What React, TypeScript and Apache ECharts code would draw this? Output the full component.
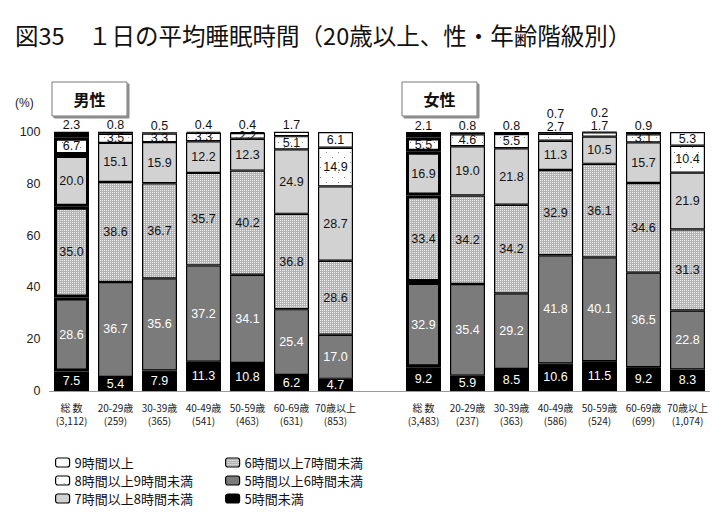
import React, { useEffect, useRef } from "react";
import * as echarts from "echarts";

const categories = ["総 数", "20-29歳", "30-39歳", "40-49歳", "50-59歳", "60-69歳", "70歳以上"];
const maleCounts = ["(3,112)", "(259)", "(365)", "(541)", "(463)", "(631)", "(853)"];
const femaleCounts = ["(3,483)", "(237)", "(363)", "(586)", "(524)", "(699)", "(1,074)"];

const bandNames = [
  "5時間未満",
  "5時間以上6時間未満",
  "6時間以上7時間未満",
  "7時間以上8時間未満",
  "8時間以上9時間未満",
  "9時間以上",
];

// Male (総数, 20-29, 30-39, 40-49, 50-59, 60-69, 70+)
const maleLt5 = [7.5, 5.4, 7.9, 11.3, 10.8, 6.2, 4.7];
const male5to6 = [28.6, 36.7, 35.6, 37.2, 34.1, 25.4, 17.0];
const male6to7 = [35.0, 38.6, 36.7, 35.7, 40.2, 36.8, 28.6];
const male7to8 = [20.0, 15.1, 15.9, 12.2, 12.3, 24.9, 28.7];
const male8to9 = [6.7, 3.5, 3.3, 3.3, 2.2, 5.1, 14.9];
const male9plus = [2.3, 0.8, 0.5, 0.4, 0.4, 1.7, 6.1];

// Female
const femaleLt5 = [9.2, 5.9, 8.5, 10.6, 11.5, 9.2, 8.3];
const female5to6 = [32.9, 35.4, 29.2, 41.8, 40.1, 36.5, 22.8];
const female6to7 = [33.4, 34.2, 34.2, 32.9, 36.1, 34.6, 31.3];
const female7to8 = [16.9, 19.0, 21.8, 11.3, 10.5, 15.7, 21.9];
const female8to9 = [5.5, 4.6, 5.5, 2.7, 1.7, 3.1, 10.4];
const female9plus = [2.1, 0.8, 0.8, 0.7, 0.2, 0.9, 5.3];

const yTicks = [0, 20, 40, 60, 80, 100];

function makePattern(kind: "dense" | "sparse") {
  const c = document.createElement("canvas");
  if (kind === "dense") {
    c.width = 4;
    c.height = 4;
    const g = c.getContext("2d")!;
    g.fillStyle = "#b4b4b4";
    g.fillRect(0, 0, 4, 4);
    g.fillStyle = "#ececec";
    g.fillRect(0, 0, 1, 1);
    g.fillRect(2, 2, 1, 1);
    g.fillRect(2, 0, 1, 1);
    g.fillRect(0, 2, 1, 1);
  } else {
    c.width = 12;
    c.height = 10;
    const g = c.getContext("2d")!;
    g.fillStyle = "#ffffff";
    g.fillRect(0, 0, 12, 10);
    g.fillStyle = "#8a8a8a";
    g.fillRect(2, 2, 1, 1);
    g.fillRect(8, 7, 1, 1);
  }
  return { image: c, repeat: "repeat", imageWidth: c.width, imageHeight: c.height };
}

export default function App() {
  const ref = useRef<HTMLDivElement>(null);
  useEffect(() => {
    document.body.style.margin = "0";
    const chart = echarts.init(ref.current!, null, { renderer: "svg" });

    const allCats = [...categories, "", ...categories];
    const allCounts = [...maleCounts, "", ...femaleCounts];
    const maleBands = [maleLt5, male5to6, male6to7, male7to8, male8to9, male9plus];
    const femaleBands = [femaleLt5, female5to6, female6to7, female7to8, female8to9, female9plus];
    const fills: any[] = [
      "#000000",
      "#7b7b7b",
      makePattern("dense"),
      "#d2d2d2",
      makePattern("sparse"),
      "#ffffff",
    ];
    const labelColors = ["#ffffff", "#ffffff", "#111", "#111", "#111", "#111"];
    const raisedFemale = [3, 4];
    const totalIdx = [0, 8];
    const numFont = "'Liberation Sans Narrow', 'Liberation Sans', sans-serif";

    const series = bandNames.map((name, b) => {
      const vals = [...maleBands[b], null, ...femaleBands[b]];
      const data = vals.map((v, i) => {
        if (v === null) return { value: null };
        const item: any = { value: v, label: {}, itemStyle: {} };
        if (totalIdx.includes(i)) item.itemStyle = { borderWidth: 3 };
        const isFemale = i > 7;
        const fi = i - 8;
        if (b === 5) {
          if (v < 5) {
            item.label = { position: "top", distance: 0 };
            if (isFemale && raisedFemale.includes(fi)) item.label.offset = [0, -12];
          } else {
            item.label = { position: "inside" };
          }
        }
        if (b === 4 && isFemale && raisedFemale.includes(fi)) {
          item.label = { position: "top", distance: 0 };
        }
        return item;
      });
      return {
        name,
        type: "bar",
        stack: "total",
        barWidth: 35,
        data,
        itemStyle: { color: fills[b], borderColor: "#000", borderWidth: 1.2 },
        label: {
          show: true,
          position: "inside",
          color: labelColors[b],
          fontSize: 12.5,
          fontFamily: numFont,
          formatter: (p: any) => (p.value == null ? "" : Number(p.value).toFixed(1)),
        },
        emphasis: { disabled: true },
      };
    });

    const legendCommon = {
      orient: "vertical",
      itemWidth: 14,
      itemHeight: 9,
      itemGap: 5,
      icon: "roundRect",
      textStyle: { fontSize: 13, color: "#111", fontFamily: "Noto Sans CJK JP" },
      itemStyle: { borderColor: "#000", borderWidth: 1.2 },
      selectedMode: false,
    };

    const box = (x: number, text: string) => ({
      type: "group",
      children: [
        {
          type: "rect",
          shape: { x, y: 82, width: 75, height: 34 },
          style: {
            fill: "#fff",
            stroke: "#777",
            lineWidth: 1,
            shadowColor: "rgba(0,0,0,0.45)",
            shadowOffsetX: 2,
            shadowOffsetY: 2,
            shadowBlur: 1,
          },
        },
        {
          type: "text",
          x: x + 37.5,
          y: 99,
          style: {
            text,
            fontSize: 16,
            fontWeight: "bold",
            fontFamily: "Noto Sans CJK JP",
            fill: "#111",
            align: "center",
            verticalAlign: "middle",
          },
        },
      ],
    });

    chart.setOption({
      animation: false,
      grid: { left: 49.5, width: 660, top: 132, height: 259 },
      xAxis: {
        type: "category",
        data: allCats,
        axisLine: { lineStyle: { color: "#999", width: 1 } },
        axisTick: { show: false },
        axisLabel: {
          interval: 0,
          margin: 10,
          fontSize: 10,
          lineHeight: 13,
          color: "#222",
          fontFamily: "Noto Sans CJK JP",
          formatter: (v: string, i: number) => (v === "" ? "" : v + "\n" + allCounts[i]),
        },
      },
      yAxis: {
        type: "value",
        min: 0,
        max: 100,
        interval: 20,
        axisLine: { show: false },
        axisTick: { show: false },
        splitLine: { show: false },
        axisLabel: {
          fontSize: 12.5,
          color: "#222",
          margin: 9,
          fontFamily: "Liberation Sans",
          customValues: yTicks,
        },
      },
      legend: [
        { ...legendCommon, left: 50, top: 451, data: [bandNames[5], bandNames[4], bandNames[3]] },
        { ...legendCommon, left: 220, top: 451, data: [bandNames[2], bandNames[1], bandNames[0]] },
      ],
      series,
      graphic: [
        {
          type: "text",
          left: 15,
          top: 23,
          style: {
            text: "図35　１日の平均睡眠時間（20歳以上、性・年齢階級別）",
            fontSize: 23.5,
            fontFamily: "Noto Sans CJK JP",
            fill: "#111",
          },
        },
        {
          type: "text",
          x: 15,
          y: 103,
          style: {
            text: "(%)",
            fontSize: 12,
            fontFamily: "Liberation Sans",
            fill: "#222",
            verticalAlign: "middle",
          },
        },
        box(52, "男性"),
        box(402, "女性"),
      ],
    });
    return () => chart.dispose();
  }, []);
  return <div ref={ref} style={{ width: 728, height: 520 }} />;
}
